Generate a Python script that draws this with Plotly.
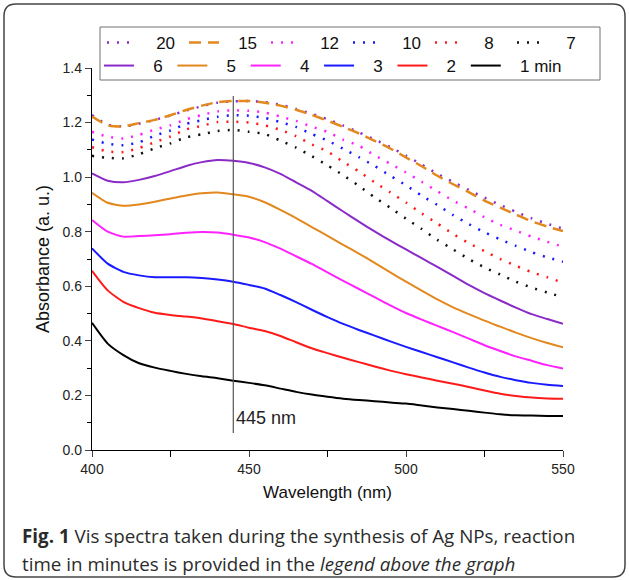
import plotly.graph_objects as go

# wavelength grid (nm)
wavelength = list(range(400, 551, 5))

# absorbance, one list per reaction time
abs_20 = [1.228, 1.192, 1.186, 1.196, 1.210, 1.226, 1.244, 1.260, 1.273, 1.278, 1.279,
          1.275, 1.265, 1.250, 1.232, 1.212, 1.189, 1.164, 1.138, 1.110, 1.079, 1.046,
          1.012, 0.982, 0.953, 0.925, 0.898, 0.873, 0.849, 0.829, 0.811]
abs_15 = [1.222, 1.190, 1.186, 1.198, 1.210, 1.227, 1.246, 1.262, 1.275, 1.279, 1.279,
          1.273, 1.262, 1.247, 1.228, 1.207, 1.184, 1.160, 1.133, 1.105, 1.072, 1.040,
          1.005, 0.974, 0.945, 0.914, 0.888, 0.863, 0.838, 0.819, 0.802]
abs_12 = [1.166, 1.148, 1.142, 1.155, 1.174, 1.190, 1.212, 1.228, 1.241, 1.245, 1.243,
          1.237, 1.222, 1.206, 1.185, 1.166, 1.137, 1.115, 1.080, 1.049, 1.017, 0.983,
          0.948, 0.914, 0.885, 0.853, 0.825, 0.804, 0.782, 0.763, 0.745]
abs_10 = [1.138, 1.122, 1.117, 1.128, 1.152, 1.171, 1.195, 1.209, 1.221, 1.227, 1.225,
          1.217, 1.202, 1.184, 1.158, 1.134, 1.104, 1.073, 1.041, 1.005, 0.970, 0.932,
          0.898, 0.861, 0.828, 0.798, 0.772, 0.748, 0.725, 0.706, 0.690]
abs_8 = [1.110, 1.094, 1.092, 1.107, 1.128, 1.149, 1.175, 1.188, 1.202, 1.203, 1.200,
         1.190, 1.173, 1.150, 1.120, 1.094, 1.056, 1.021, 0.981, 0.944, 0.907, 0.867,
         0.830, 0.792, 0.758, 0.729, 0.700, 0.675, 0.652, 0.633, 0.613]
abs_7 = [1.078, 1.071, 1.069, 1.084, 1.106, 1.124, 1.146, 1.157, 1.169, 1.173, 1.166,
         1.158, 1.134, 1.108, 1.077, 1.043, 1.007, 0.968, 0.926, 0.888, 0.848, 0.810,
         0.770, 0.735, 0.700, 0.669, 0.643, 0.617, 0.595, 0.577, 0.560]
abs_6 = [1.014, 0.987, 0.981, 0.990, 1.004, 1.022, 1.041, 1.055, 1.063, 1.060, 1.052,
         1.036, 1.012, 0.981, 0.950, 0.912, 0.874, 0.837, 0.801, 0.767, 0.735, 0.703,
         0.671, 0.638, 0.605, 0.575, 0.548, 0.522, 0.498, 0.480, 0.463]
abs_5 = [0.943, 0.906, 0.895, 0.900, 0.910, 0.922, 0.933, 0.941, 0.944, 0.937, 0.928,
         0.908, 0.880, 0.850, 0.817, 0.785, 0.752, 0.720, 0.686, 0.651, 0.617, 0.584,
         0.552, 0.523, 0.498, 0.474, 0.452, 0.430, 0.410, 0.392, 0.376]
abs_4 = [0.843, 0.800, 0.782, 0.784, 0.787, 0.791, 0.796, 0.799, 0.797, 0.789, 0.779,
         0.762, 0.738, 0.710, 0.682, 0.651, 0.620, 0.590, 0.560, 0.530, 0.502, 0.478,
         0.455, 0.432, 0.408, 0.384, 0.363, 0.343, 0.327, 0.311, 0.299]
abs_3 = [0.739, 0.683, 0.653, 0.640, 0.633, 0.633, 0.633, 0.630, 0.625, 0.617, 0.605,
         0.592, 0.568, 0.542, 0.514, 0.487, 0.462, 0.440, 0.419, 0.398, 0.378, 0.359,
         0.340, 0.321, 0.302, 0.284, 0.268, 0.256, 0.246, 0.239, 0.235]
abs_2 = [0.657, 0.585, 0.543, 0.520, 0.503, 0.495, 0.489, 0.482, 0.472, 0.462, 0.448,
         0.436, 0.418, 0.395, 0.373, 0.355, 0.338, 0.322, 0.306, 0.291, 0.278, 0.266,
         0.254, 0.243, 0.231, 0.218, 0.206, 0.198, 0.192, 0.189, 0.188]
abs_1 = [0.466, 0.390, 0.348, 0.318, 0.302, 0.290, 0.279, 0.270, 0.263, 0.254, 0.246,
         0.237, 0.225, 0.213, 0.203, 0.195, 0.188, 0.183, 0.179, 0.174, 0.170, 0.163,
         0.156, 0.150, 0.144, 0.137, 0.131, 0.127, 0.126, 0.125, 0.125]

PEAK_NM = 445
PEAK_LINE_Y = [0.062, 1.297]

PURPLE = "#8a2bc8"
ORANGE = "#e2881e"
DOT = "2px,8px"

# (label, values, colour, dash)
row1 = [("20", abs_20, PURPLE, DOT), ("15", abs_15, ORANGE, "12px,7px"),
        ("12", abs_12, "#ff22ff", DOT), ("10", abs_10, "#1a1aff", DOT),
        ("8", abs_8, "#ff1a1a", DOT), ("7", abs_7, "#111111", DOT)]
row2 = [("6", abs_6, PURPLE, "solid"), ("5", abs_5, ORANGE, "solid"),
        ("4", abs_4, "#ff22ff", "solid"), ("3", abs_3, "#1a1aff", "solid"),
        ("2", abs_2, "#ff1a1a", "solid"), ("1 min", abs_1, "#000000", "solid")]

W, H = 629, 580
L, R, T, B = 92, 66, 68, 130
PW, PH = W - L - R, H - T - B
NB = "\u00a0"
PAD = NB * 3  # pushes legend text away from the short symbol


def px_x(px):
    return (px - L) / PW


def px_y(py):
    return (H - B - py) / PH


fig = go.Figure()

for name, vals, color, dash in row1:
    fig.add_trace(go.Scatter(
        x=wavelength, y=vals, mode="lines", name=PAD + name, legend="legend",
        line=dict(color=color, width=2.5, dash=dash, shape="spline", smoothing=0.6),
    ))
for name, vals, color, dash in row2:
    label = PAD + name + (NB if len(name) == 1 else "")
    fig.add_trace(go.Scatter(
        x=wavelength, y=vals, mode="lines", name=label, legend="legend2",
        line=dict(color=color, width=2, dash=dash, shape="spline", smoothing=0.6),
    ))

# 445 nm marker line
fig.add_shape(type="line", xref="x", yref="y", x0=PEAK_NM, x1=PEAK_NM,
              y0=PEAK_LINE_Y[0], y1=PEAK_LINE_Y[1], line=dict(color="#555555", width=1.2))
fig.add_annotation(x=PEAK_NM, y=0.117, xref="x", yref="y", text="445 nm", showarrow=False,
                   xanchor="left", xshift=1, font=dict(size=18, color="#222"))

# legend frame (two legends share one box)
fig.add_shape(type="rect", xref="paper", yref="paper", x0=px_x(100), x1=px_x(600),
              y0=px_y(80), y1=px_y(27), line=dict(color="#707070", width=1),
              fillcolor="white", layer="below")

# rounded outer frame
r = 12
x0, x1, y0, y1 = 4, 625, 4, 577
path = (f"M {px_x(x0 + r)},{px_y(y0)} L {px_x(x1 - r)},{px_y(y0)} "
        f"Q {px_x(x1)},{px_y(y0)} {px_x(x1)},{px_y(y0 + r)} "
        f"L {px_x(x1)},{px_y(y1 - r)} Q {px_x(x1)},{px_y(y1)} {px_x(x1 - r)},{px_y(y1)} "
        f"L {px_x(x0 + r)},{px_y(y1)} Q {px_x(x0)},{px_y(y1)} {px_x(x0)},{px_y(y1 - r)} "
        f"L {px_x(x0)},{px_y(y0 + r)} Q {px_x(x0)},{px_y(y0)} {px_x(x0 + r)},{px_y(y0)} Z")
fig.add_shape(type="path", xref="paper", yref="paper", path=path,
              line=dict(color="#444444", width=1.5))

# caption
cap_font = dict(family="Open Sans, Noto Sans, sans-serif", size=18.8, color="#2b2b2b")
fig.add_annotation(x=px_x(20), y=px_y(536), xref="paper", yref="paper", xanchor="left",
                   yanchor="middle", showarrow=False, font=cap_font,
                   text="<b>Fig. 1</b> Vis spectra taken during the synthesis of Ag NPs, reaction")
fig.add_annotation(x=px_x(20), y=px_y(564), xref="paper", yref="paper", xanchor="left",
                   yanchor="middle", showarrow=False, font=cap_font,
                   text="time in minutes is provided in the <i>legend above the graph</i>")

SANS = "Arial, Liberation Sans, sans-serif"
axis_font = dict(family=SANS, size=14, color="#222")
legend_common = dict(orientation="h", yanchor="middle", xanchor="right",
                     bgcolor="rgba(0,0,0,0)", borderwidth=0,
                     font=dict(family=SANS, size=17, color="#111"))

fig.update_layout(
    width=W, height=H,
    margin=dict(l=L, r=R, t=T, b=B, autoexpand=False),
    paper_bgcolor="white", plot_bgcolor="white",
    font=dict(family=SANS),
    xaxis=dict(range=[400, 550], dtick=50, ticks="outside", ticklen=6, tickwidth=1.2,
               showline=True, linecolor="black", linewidth=1.3, showgrid=False, zeroline=False,
               tickfont=axis_font, automargin=False,
               minor=dict(dtick=25, ticks="outside", ticklen=6, tickcolor="black"),
               title=dict(text="Wavelength (nm)", standoff=10,
                          font=dict(size=17, color="#111"))),
    yaxis=dict(range=[0, 1.4], dtick=0.2, tickformat=".1f", ticks="outside", ticklen=6,
               tickwidth=1.2, showline=True, linecolor="black", linewidth=1.3,
               showgrid=False, zeroline=False, tickfont=axis_font, automargin=False,
               minor=dict(dtick=0.1, ticks="outside", ticklen=4, tickcolor="black"),
               title=dict(text="Absorbance (a. u.)", standoff=8,
                          font=dict(size=18, color="#111"))),
    # anchored right, past the plot edge, so each row of six stays on one line
    legend=dict(x=px_x(594), y=px_y(43), entrywidth=37, entrywidthmode="pixels",
                **legend_common),
    legend2=dict(x=px_x(567), y=px_y(66), **legend_common),
    showlegend=True,
)

fig.write_html("out.html", config={"displayModeBar": False},
               post_script="document.body.style.margin='0px';")
